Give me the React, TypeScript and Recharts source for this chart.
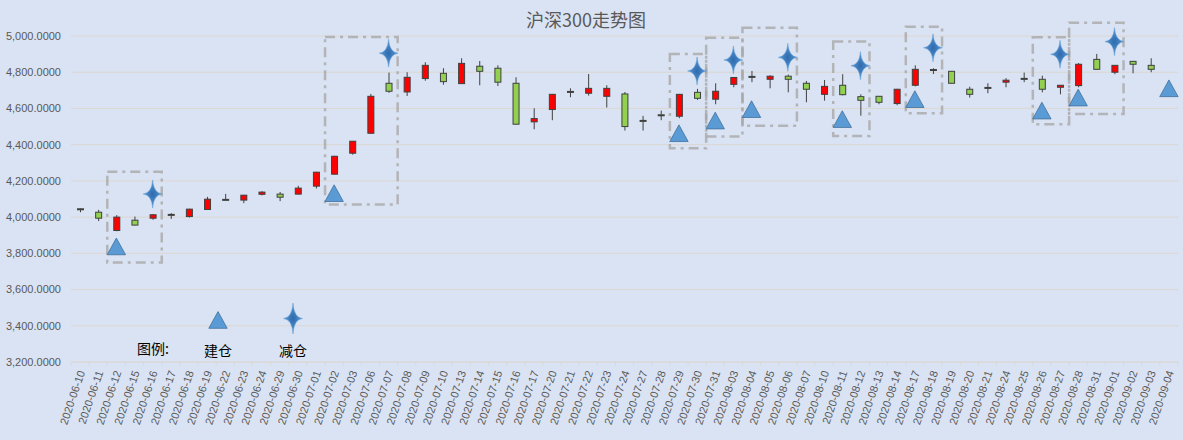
import React from 'react';
import { ComposedChart, Bar, Line, XAxis, YAxis, CartesianGrid, ReferenceArea, Legend } from 'recharts';

const dates = [
  '2020-06-10','2020-06-11','2020-06-12','2020-06-15','2020-06-16','2020-06-17','2020-06-18','2020-06-19','2020-06-22','2020-06-23',
  '2020-06-24','2020-06-29','2020-06-30','2020-07-01','2020-07-02','2020-07-03','2020-07-06','2020-07-07','2020-07-08','2020-07-09',
  '2020-07-10','2020-07-13','2020-07-14','2020-07-15','2020-07-16','2020-07-17','2020-07-20','2020-07-21','2020-07-22','2020-07-23',
  '2020-07-24','2020-07-27','2020-07-28','2020-07-29','2020-07-30','2020-07-31','2020-08-03','2020-08-04','2020-08-05','2020-08-06',
  '2020-08-07','2020-08-10','2020-08-11','2020-08-12','2020-08-13','2020-08-14','2020-08-17','2020-08-18','2020-08-19','2020-08-20',
  '2020-08-21','2020-08-24','2020-08-25','2020-08-26','2020-08-27','2020-08-28','2020-08-31','2020-09-01','2020-09-02','2020-09-03',
  '2020-09-04',
];

const openV: (number | null)[] = [
  4046,4027,3926,3983,3994,4015,4003,4042,4098,4094,
  4126,4127,4127,4171,4237,4353,4463,4739,4691,4765,
  4794,4737,4833,4822,4739,4526,4594,4694,4684,4667,
  4680,4534,4565,4557,4689,4651,4733,4777,4761,4778,
  4739,4678,4728,4665,4667,4627,4728,4815,4805,4706,
  4716,4745,4766,4761,4717,4726,4871,4800,4860,4838,
  null,
];
const highV: (number | null)[] = [
  4048,4040,4011,4003,4015,4022,4046,4112,4128,4123,
  4143,4139,4173,4250,4338,4420,4680,4798,4800,4855,
  4822,4877,4862,4838,4772,4601,4680,4711,4790,4728,
  4691,4559,4588,4680,4708,4739,4773,4807,4783,4787,
  4752,4757,4789,4678,4669,4708,4838,4822,4806,4720,
  4739,4767,4798,4781,4729,4851,4901,4840,4862,4877,
  null,
];
const lowV: (number | null)[] = [
  4027,3978,3922,3954,3985,3990,3998,4040,4094,4077,
  4120,4088,4125,4158,4235,4345,4461,4686,4669,4753,
  4731,4735,4728,4724,4511,4485,4535,4662,4671,4605,
  4478,4478,4535,4546,4647,4623,4717,4745,4711,4689,
  4634,4643,4672,4560,4623,4618,4722,4790,4738,4660,
  4684,4717,4745,4689,4678,4717,4815,4789,4794,4800,
  null,
];
const closeV: (number | null)[] = [
  4044,3994,4000,3956,4013,4013,4044,4099,4096,4121,
  4138,4110,4160,4248,4336,4419,4667,4695,4772,4838,
  4748,4849,4805,4745,4513,4544,4678,4692,4711,4711,
  4500,4532,4563,4678,4656,4695,4771,4775,4778,4761,
  4706,4722,4676,4645,4634,4706,4816,4813,4739,4678,
  4714,4756,4764,4706,4728,4844,4816,4838,4844,4816,
  null,
];

// 建仓 (build position) markers
const buyDates = ['2020-06-12','2020-07-02','2020-07-29','2020-07-31','2020-08-04','2020-08-11','2020-08-17','2020-08-26','2020-08-28','2020-09-04'];
const buyValues = [3838,4132,4463,4533,4596,4541,4651,4588,4660,4711];
// 减仓 (reduce position) markers
const sellDates = ['2020-06-16','2020-07-07','2020-07-30','2020-08-03','2020-08-06','2020-08-12','2020-08-18','2020-08-27','2020-09-01'];
const sellValues = [4128,4905,4807,4868,4882,4836,4935,4899,4969];

// dashed boxes grouping trades
const boxFrom = ['2020-06-12','2020-07-02','2020-07-29','2020-07-31','2020-08-04','2020-08-11','2020-08-17','2020-08-26','2020-08-28'];
const boxTo   = ['2020-06-16','2020-07-07','2020-07-30','2020-08-03','2020-08-06','2020-08-12','2020-08-18','2020-08-27','2020-09-01'];
const boxLow  = [3750,4070,4380,4445,4505,4448,4574,4513,4570];
const boxHigh = [4250,4995,4900,4990,5045,4969,5051,4993,5073];

const yTicks = [3200,3400,3600,3800,4000,4200,4400,4600,4800,5000];

const data = dates.map((d, i) => ({
  date: d,
  open: openV[i],
  high: highV[i],
  low: lowV[i],
  close: closeV[i],
  buy: buyDates.indexOf(d) >= 0 ? buyValues[buyDates.indexOf(d)] : null,
  sell: sellDates.indexOf(d) >= 0 ? sellValues[sellDates.indexOf(d)] : null,
}));

const W = 1183;
const H = 440;
const MARGIN = { top: 36, right: 5, bottom: 8, left: 0 };
const Y_W = 71;
const X_H = 70;
const PLOT_W = W - MARGIN.left - MARGIN.right - Y_W;

const LABEL_FONT = '"Liberation Sans", Arial, sans-serif';
const CJK_FONT = '"Noto Sans CJK SC", "Noto Sans", sans-serif';

const Candle = (props: any) => {
  const { x, y, width, height, payload } = props;
  if (!payload || payload.open == null) return <g />;
  const { open, close, high, low } = payload;
  const top = Math.min(y, y + height);
  const h = Math.abs(height);
  const k = h / (high - low);
  const cx = x + width / 2;
  const bTop = top + (high - Math.max(open, close)) * k;
  const bH = Math.max(1, Math.abs(open - close) * k);
  const up = close >= open;
  return (
    <g>
      <line x1={cx} x2={cx} y1={top} y2={top + h} stroke="#404040" strokeWidth={1} />
      <rect x={x + 0.5} y={bTop} width={width - 1} height={bH} fill={up ? '#FF0000' : '#92D050'} stroke="#404040" strokeWidth={1} />
    </g>
  );
};

const triPath = (cx: number, cy: number) => `M${cx},${cy - 8.4} L${cx + 9.2},${cy + 8.3} L${cx - 9.2},${cy + 8.3} Z`;
const starPath = (cx: number, cy: number, rx = 9.5, ry = 14, c = 0.9) =>
  `M${cx},${cy - ry} Q${cx + c},${cy - c} ${cx + rx},${cy} Q${cx + c},${cy + c} ${cx},${cy + ry} Q${cx - c},${cy + c} ${cx - rx},${cy} Q${cx - c},${cy - c} ${cx},${cy - ry} Z`;

const StarDefs = () => (
  <defs>
    <radialGradient id="starGrad" cx="50%" cy="50%" r="50%">
      <stop offset="0%" stopColor="#2E6AAE" />
      <stop offset="100%" stopColor="#5B9BD5" />
    </radialGradient>
  </defs>
);

const TriDot = (props: any) => {
  const { cx, cy, payload, index } = props;
  if (!payload || payload.buy == null || cy == null) return <g key={`t${index}`} />;
  return <path key={`t${index}`} d={triPath(cx, cy)} fill="#5B9BD5" stroke="#41719C" strokeWidth={0.8} />;
};

const StarDot = (props: any) => {
  const { cx, cy, payload, index } = props;
  if (!payload || payload.sell == null || cy == null) return <g key={`s${index}`} />;
  return <path key={`s${index}`} d={starPath(cx, cy)} fill="url(#starGrad)" stroke="#5B9BD5" strokeWidth={0.5} />;
};

const XTick = (props: any) => {
  const { x, y, payload, index } = props;
  const bw = PLOT_W / dates.length;
  return (
    <g>
      <line x1={x - bw / 2} x2={x - bw / 2} y1={y} y2={y + 4} stroke="#D9D9D9" />
      {index === dates.length - 1 && <line x1={x + bw / 2} x2={x + bw / 2} y1={y} y2={y + 4} stroke="#D9D9D9" />}
      <g transform={`translate(${x + 1.5},${y + 9}) rotate(-71)`}>
        <text x={0} y={0} dy="0.35em" textAnchor="end" fill="#595959" fontSize={11} fontFamily={LABEL_FONT}>
          {payload.value}
        </text>
      </g>
    </g>
  );
};

const fmtY = (v: number) => v.toLocaleString('en-US', { minimumFractionDigits: 4, maximumFractionDigits: 4 });

const LegendContent = () => (
  <svg width={200} height={60} style={{ display: 'block', overflow: 'visible' }}>
    <text x={7} y={48} dominantBaseline="central" fontSize={14} fill="#000" fontFamily={CJK_FONT}>图例:</text>
    <path d={triPath(88, 20)} fill="#5B9BD5" stroke="#41719C" strokeWidth={0.8} />
    <text x={88} y={50} textAnchor="middle" dominantBaseline="central" fontSize={14} fill="#000" fontFamily={CJK_FONT}>建仓</text>
    <path d={starPath(163, 18.5, 9.5, 15.5)} fill="url(#starGrad)" stroke="#5B9BD5" strokeWidth={0.5} />
    <text x={163} y={50} textAnchor="middle" dominantBaseline="central" fontSize={14} fill="#000" fontFamily={CJK_FONT}>减仓</text>
  </svg>
);

export default function App() {
  return (
    <div style={{ position: 'absolute', left: 0, top: 0, width: W, height: H, background: '#DAE3F3', overflow: 'hidden' }}>
      <svg width={0} height={0} style={{ position: 'absolute' }}>
        <StarDefs />
      </svg>
      <div
        style={{
          position: 'absolute', left: 0, top: 5, width: 1172, textAlign: 'center',
          fontFamily: CJK_FONT, fontSize: 18, color: '#595959', lineHeight: '28px',
        }}
      >
        沪深300走势图
      </div>
      <ComposedChart width={W} height={H} data={data} margin={MARGIN}>
        <CartesianGrid vertical={false} stroke="#DCD7D2" />
        <XAxis
          dataKey="date"
          type="category"
          interval={0}
          height={X_H}
          tickSize={0}
          tickMargin={0}
          tickLine={false}
          axisLine={{ stroke: '#D9D9D9' }}
          tick={<XTick />}
        />
        <YAxis
          type="number"
          domain={[3200, 5000]}
          ticks={yTicks}
          width={Y_W}
          tickSize={0}
          tickMargin={10}
          tickLine={false}
          axisLine={false}
          tickFormatter={fmtY}
          tick={{ fill: '#595959', fontSize: 11, fontFamily: LABEL_FONT }}
        />
        {boxFrom.map((f, i) => (
          <ReferenceArea
            key={`box${i}`}
            x1={f}
            x2={boxTo[i]}
            y1={boxLow[i]}
            y2={boxHigh[i]}
            ifOverflow="visible"
            fill="none"
            fillOpacity={0}
            stroke="#A8A8A8"
            strokeOpacity={0.8}
            strokeWidth={2.5}
            strokeDasharray="10 5 3 5"
          />
        ))}
        <Bar
          dataKey={(d: any) => (d.low == null ? null : [d.low, d.high])}
          barSize={7}
          shape={<Candle />}
          isAnimationActive={false}
          legendType="none"
        />
        <Line dataKey="buy" stroke="none" dot={TriDot} activeDot={false} isAnimationActive={false} legendType="none" />
        <Line dataKey="sell" stroke="none" dot={StarDot} activeDot={false} isAnimationActive={false} legendType="none" />
        <Legend
          layout="horizontal"
          verticalAlign="middle"
          align="center"
          wrapperStyle={{ position: 'absolute', left: 130, top: 300, width: 200, height: 60 }}
          content={() => <LegendContent />}
        />
      </ComposedChart>
    </div>
  );
}
